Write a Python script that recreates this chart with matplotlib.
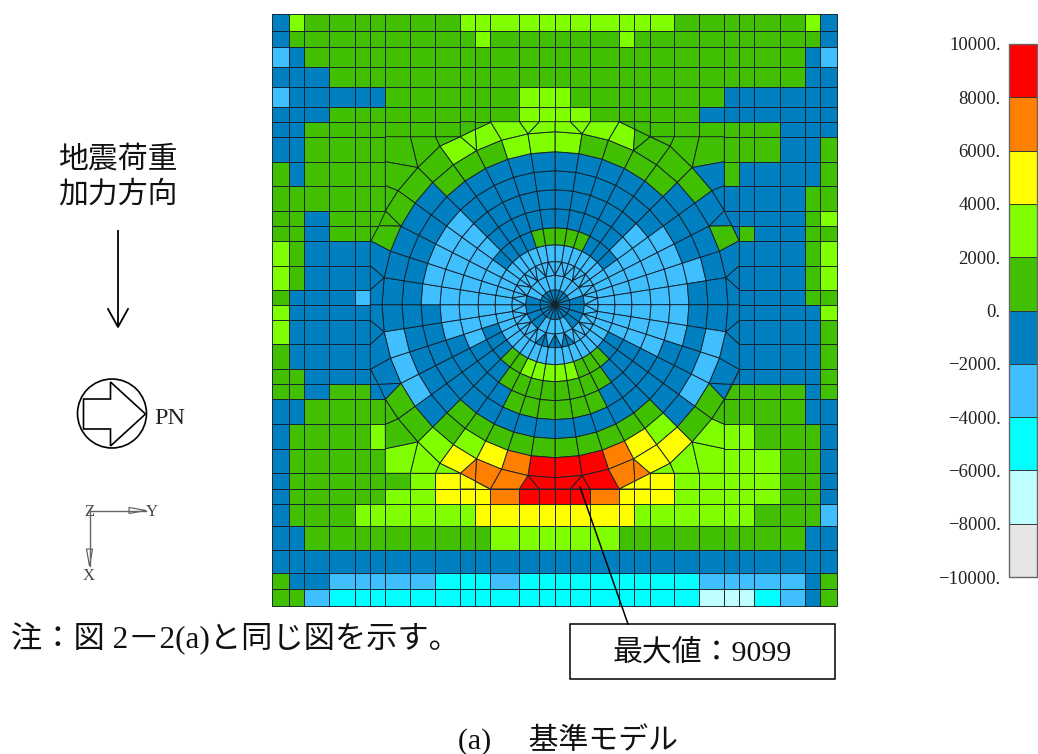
import numpy as np
import matplotlib

matplotlib.use('Agg')

import matplotlib.pyplot as plt
from matplotlib.cm import ScalarMappable
from matplotlib.collections import PolyCollection
from matplotlib.colors import BoundaryNorm, ListedColormap
from matplotlib.patches import Circle, Polygon, Rectangle
from matplotlib.ticker import FuncFormatter

JP = ['Liberation Serif', 'Noto Sans CJK JP', 'DejaVu Sans']

# contour bands
levels = [-10000, -8000, -6000, -4000, -2000, 0, 2000, 4000, 6000, 8000, 10000]
band_colors = ['#e6e6e6', '#bfffff', '#00ffff', '#40bfff', '#0080c0',
               '#40c000', '#80ff00', '#ffff00', '#ff8000', '#ff0000']

# mesh lines of the outer grid
x_lines = [272.3, 289.3, 304.3, 329.3, 355.3, 370.3, 385.3, 410.3, 435.3, 460.3,
           475.3, 490.3, 519.3, 539.3, 555, 570.3, 590.3, 619.3, 634.3, 650.3,
           674.3, 699.3, 724.3, 739.3, 754.3, 780.3, 805.3, 820.3, 837.3]
y_lines = [14, 30.7, 47.3, 66.7, 86.7, 106.7, 121.7, 136.7, 161.7, 185.7, 210.7,
           225.7, 240.7, 265.7, 290, 304.7, 320.3, 344.3, 369.3, 384.3, 399.3,
           424.3, 448.7, 473.3, 489, 504, 526.3, 550.3, 572.7, 589, 606]

# stress per grid cell in thousands (middle of the band), 0 = cell is inside the hole mesh
H10, H16, H18 = [0] * 10, [0] * 16, [0] * 18
grid_rows = [
    [-1, 3, 1, 1, 1, 1, 1, 1, 1, 3, 3, 3, 3, 3, 3, 3, 3, 3, 3, 3, 1, 1, 1, 1, 1, 1, 3, -1],
    [-1, 1, 1, 1, 1, 1, 1, 1, 1, 1, 3, 1, 1, 1, 1, 1, 1, 3, 1, 1, 1, 1, 1, 1, 1, 1, 1, -1],
    [-3, -1, 1, 1, 1, 1, 1, 1, 1, 1, 1, 1, 1, 1, 1, 1, 1, 1, 1, 1, 1, 1, 1, 1, 1, 1, -1, -3],
    [-1, -1, -1, 1, 1, 1, 1, 1, 1, 1, 1, 1, 1, 1, 1, 1, 1, 1, 1, 1, 1, 1, 1, 1, 1, 1, -1, -1],
    [-3, -1, -1, -1, -1, -1, 1, 1, 1, 1, 1, 1, 3, 3, 3, 1, 1, 1, 1, 1, 1, 1, -1, -1, -1, -1, -1, -1],
    [-1, -1, -1, 1, 1, 1, 1, 1, 1, 1, 1, 1, 3, 3, 3, 3, 1, 1, 1, 1, 1, -1, -1, -1, -1, -1, -1, -1],
    [-1, -1, 1, 1, 1, 1, 1, 1, 1] + H10 + [1, 1, 1, 1, 1, 1, -1, -1, -1],
    [-1, -1, 1, 1, 1, 1] + H16 + [1, 1, 1, -1, -1, 1],
    [1, -1, 1, 1, 1, 1] + H16 + [1, -1, -1, -1, -1, 1],
    [1, 1, 1, 1, 1, 1] + H16 + [-1, -1, -1, -1, 1, 1],
    [1, 1, -1, 1, 1] + H18 + [-1, -1, -1, 1, 3],
    [1, 1, -1, 1, 1] + H18 + [1, -1, -1, 1, 1],
    [3, 1, -1, -1, -1] + H18 + [-1, -1, -1, 1, 3],
    [3, 1, -1, -1, -1] + H18 + [-1, -1, -1, 1, 3],
    [1, -1, -1, -1, -3] + H18 + [-1, -1, -1, 1, 1],
    [3, -1, -1, -1, -1] + H18 + [-1, -1, -1, -1, 3],
    [3, -1, -1, -1, -1] + H18 + [-1, -1, -1, -1, 1],
    [1, -1, -1, -1, -1] + H18 + [-1, -1, -1, -1, 1],
    [1, 1, -1, -1, -1] + H18 + [-1, -1, -1, -1, 1],
    [1, 1, -1, 1, 1] + H18 + [1, 1, 1, -1, 1],
    [-1, -1, 1, 1, 1, 1] + H16 + [1, 1, 1, 1, -1, -1],
    [-1, 1, 1, 1, 1, 3] + H16 + [3, 3, 1, 1, 1, -1],
    [-1, 1, 1, 1, 1, 1] + H16 + [3, 3, 3, 1, 1, -1],
    [-1, 1, 1, 1, 1, 1, 1, 3, 5] + H10 + [5, 3, 3, 3, 3, 3, 1, 1, -1],
    [-1, 1, 1, 1, 1, 1, 3, 3, 5, 5, 5, 7, 9, 9, 9, 9, 7, 5, 5, 5, 3, 3, 3, 3, 3, 1, 1, -1],
    [-1, 1, 1, 1, 3, 3, 3, 3, 3, 3, 5, 5, 5, 5, 5, 5, 5, 5, 3, 3, 3, 3, 3, 3, 1, 1, 1, -3],
    [-1, -1, 1, 1, 1, 1, 1, 1, 1, 1, 1, 3, 3, 3, 3, 3, 3, 1, 1, 1, 1, 1, 1, 1, 1, 1, -1, -1],
    [-1] * 28,
    [1, -1, -1, -3, -3, -3, -3, -3, -5, -5, -5, -3, -5, -5, -5, -5, -5, -5, -5, -5, -5, -3, -3, -3, -3, -3, -1, 1],
    [1, 1, -3, -5, -5, -5, -5, -5, -5, -5, -5, -5, -5, -5, -5, -5, -5, -5, -5, -5, -5, -7, -7, -7, -5, -3, -1, 1],
]

# hole mesh: ring radii and stress per 9 degree sector, clockwise from the top
center = (555, 304.7)
ring_radii = [43, 60, 77, 96, 115, 134, 153, 173]
ring_bands = [
    [-3] * 40,
    [1, 1, 1, -1, -1, -1, -3, -3, -3, -3,
     -3, -3, -3, -1, -1, 1, 1, 1, 3, 3,
     3, 3, 3, 1, 1, -1, -1, -1, -3, -3,
     -3, -3, -3, -3, -1, -1, -1, -1, 1, 1],
    [-1, -1, -1, -1, -1, -3, -3, -3, -3, -3,
     -3, -3, -3, -1, -1, -1, 1, 1, 1, 1,
     1, 1, 1, 1, -1, -1, -1, -3, -3, -3,
     -3, -3, -3, -3, -3, -1, -1, -1, -1, -1],
    [-1, -1, -1, -1, -1, -3, -3, -3, -3, -3,
     -3, -3, -3, -1, -1, -1, -1, 1, 1, 1,
     1, 1, 1, -1, -1, -1, -1, -1, -3, -3,
     -3, -3, -3, -3, -3, -1, -1, -1, -1, -1],
    [-1, -1, -1, -1, -1, -1, -3, -3, -3, -3,
     -3, -3, -1, -1, -1, -1, -1, -1, -1, -1,
     -1, -1, -1, -1, -1, -1, -1, -1, -1, -1,
     -3, -3, -3, -3, -3, -1, -1, -1, -1, -1],
    [-1, -1, -1, -1, -1, -1, -1, -1, -3, -1,
     -1, -1, -1, -1, -1, 1, 1, 1, 1, 1,
     1, 1, 1, 1, 1, -1, -1, -1, -1, -1,
     -1, -1, -1, -1, -1, -1, -1, -1, -1, -1],
    [3, 1, 1, 1, 1, -1, -1, -1, -1, -1,
     -1, -3, -3, -3, -1, 3, 5, 7, 9, 9,
     9, 7, 5, 3, 1, -1, -3, -3, -3, -1,
     -1, -1, -1, -1, -1, 1, 1, 1, 3, 3],
]
# inner star: dark sectors
mid_dark = [4, 5, 6, 7, 12, 13, 14, 15]          # 18 degree sectors, radius 15 to 29.5
star_dark = [17, 18, 19, 20, 21, 22]             # 9 degree sectors, radius 29.5 to 43

# transition elements, one list per quadrant (top right, bottom right, bottom left, top left)
trans_tr = [3, 3, 3, 3, 1, 1, 1, 1, -1, -1, 1, -1, -1, -1, 1, 1, 1, 1, 1, -1, -1, -1, -1]
trans_br = [9, 9, 9, 7, 7, 5, 5, 1, 1, -1, -1, -1, -1, -1, 5, 5, 3, 3, 3, 3, 1, 1, -1]
trans_bl = [9, 9, 7, 7, 7, 5, 3, 1, 1, -1, -1, -1, -1, -1, 5, 5, 3, 3, 3, 1, 1, -1, -1]
trans_tl = [3, 3, 3, 3, 3, 3, 1, 1, 1, 1, 1, -1, -1, -1, 1, 1, 1, 1, 1, 1, 1, 1, 1]

legend_text = '地震荷重\n加力方向'
note_text = '注：図 2－2(a)と同じ図を示す。'
max_text = '最大値：9099'
caption_text = '(a)　 基準モデル'


def ring_pt(r, deg):
    a = np.radians(deg)
    return center[0] + r * np.sin(a), center[1] - r * np.cos(a)


def transition_polys(flip_x, flip_y):
    # written for the top right quadrant, mirrored for the others
    def G(c, r):
        return (x_lines[28 - c if flip_x else c], y_lines[30 - r if flip_y else r])

    def P(r, deg):
        x, y = ring_pt(r, deg)
        if flip_x:
            x = 2 * center[0] - x
        if flip_y:
            y = 2 * center[1] - y
        return (x, y)

    def on_line(a, b, t):
        return (a[0] + (b[0] - a[0]) * t, a[1] + (b[1] - a[1]) * t)

    o36, o45, o54 = P(196, 36), P(194, 45), P(194, 54)
    mid = on_line(G(17, 6), G(19, 7), 0.5)
    cut = on_line(G(22, 10), G(23, 12), 0.5)
    return [
        [G(14, 6), G(15, 6), P(173, 9), P(173, 0)],
        [G(15, 6), G(16, 6), P(173, 9)],
        [G(16, 6), G(17, 6), P(173, 18), P(173, 9)],
        [G(17, 6), mid, P(173, 27), P(173, 18)],
        [mid, G(19, 7), P(173, 27)],
        [G(19, 7), o36, P(173, 36), P(173, 27)],
        [o36, o45, P(173, 45), P(173, 36)],
        [o45, o54, P(173, 54), P(173, 45)],
        [o54, G(22, 10), P(173, 63), P(173, 54)],
        [G(22, 10), cut, P(173, 63)],
        [P(173, 63), cut, G(23, 12), P(173, 72)],
        [G(23, 12), G(23, 13), P(173, 81), P(173, 72)],
        [G(23, 13), G(23, 14), P(173, 81)],
        [G(23, 14), G(23, 15), P(173, 90), P(173, 81)],
        [G(17, 6), G(18, 6), mid],
        [G(18, 6), G(19, 6), G(19, 7), mid],
        [G(19, 7), G(20, 7), o36],
        [G(20, 7), G(21, 7), o45, o36],
        [G(21, 7), G(22, 7), G(22, 8), o45],
        [G(22, 8), G(22, 9), o54, o45],
        [G(22, 9), G(22, 10), o54],
        [G(22, 10), G(23, 10), G(23, 11), cut],
        [cut, G(23, 11), G(23, 12)],
    ]


verts, values = [], []

for r, row in enumerate(grid_rows):
    for c, v in enumerate(row):
        if v == 0:
            continue
        verts.append([(x_lines[c], y_lines[r]), (x_lines[c + 1], y_lines[r]),
                      (x_lines[c + 1], y_lines[r + 1]), (x_lines[c], y_lines[r + 1])])
        values.append(v * 1000)

for k, bands in enumerate(ring_bands):
    for i, v in enumerate(bands):
        verts.append([ring_pt(ring_radii[k], i * 9), ring_pt(ring_radii[k + 1], i * 9),
                      ring_pt(ring_radii[k + 1], (i + 1) * 9), ring_pt(ring_radii[k], (i + 1) * 9)])
        values.append(v * 1000)

for flips, bands in [((False, False), trans_tr), ((False, True), trans_br),
                     ((True, True), trans_bl), ((True, False), trans_tl)]:
    for poly, v in zip(transition_polys(*flips), bands):
        verts.append(poly)
        values.append(v * 1000)

# center of the hole: fans and star shaped ring
for s in range(20):
    a0, a1 = s * 18, (s + 1) * 18
    verts.append([center, ring_pt(15, a0), ring_pt(15, a1)])
    values.append(-1000)
    verts.append([ring_pt(15, a0), ring_pt(29.5, a0), ring_pt(29.5, a1), ring_pt(15, a1)])
    values.append(-1000 if s in mid_dark else -3000)
    # two triangles against the outer ring and one between them
    for j, inner in ((2 * s, a0), (2 * s + 1, a1)):
        verts.append([ring_pt(29.5, inner), ring_pt(43, j * 9), ring_pt(43, (j + 1) * 9)])
        values.append(-1000 if j in star_dark else -3000)
    verts.append([ring_pt(29.5, a0), ring_pt(43, a0 + 9), ring_pt(29.5, a1)])
    values.append(-3000)

cmap = ListedColormap(band_colors)
norm = BoundaryNorm(levels, cmap.N)

fig = plt.figure(figsize=(10.38, 7.54), dpi=100)
ax = fig.add_axes([0, 0, 1, 1])
ax.set_xlim(0, 1038)
ax.set_ylim(754, 0)
ax.axis('off')

mesh = PolyCollection(verts, array=np.array(values), cmap=cmap, norm=norm,
                      edgecolors='#14202a', linewidths=0.65)
ax.add_collection(mesh)

# leader and box for the maximum
ax.plot([580, 628], [487, 624], color='k', lw=1.1)
ax.add_patch(Rectangle((570, 624), 265, 55, fc='w', ec='k', lw=1.1))
ax.text(702, 653, max_text, family=JP, fontsize=21.5, ha='center', va='center', color='#111111')

# load direction
ax.text(118, 177, legend_text, family=JP, fontsize=21.5, ha='center', va='center',
        linespacing=1.3, color='#111111')
ax.plot([118, 118], [231, 326], color='k', lw=1.3)
ax.plot([108, 118, 128], [309, 327, 309], color='k', lw=1.3)

# PN symbol
ax.add_patch(Circle((112, 413.5), 34.5, fc='none', ec='k', lw=1.2))
ax.add_patch(Polygon([(83.5, 399), (110.5, 399), (110.5, 382), (145.5, 414), (110.5, 446),
                      (110.5, 429), (83.5, 429)], closed=True, fc='w', ec='k', lw=1.2))
ax.text(154, 418, 'PN', family='Liberation Serif', fontsize=17.5, ha='left', va='center',
        color='#222222')

# global axes
ax.plot([89.5, 146], [510.5, 510.5], color='#666666', lw=1)
ax.plot([89.5, 89.5], [510.5, 566], color='#666666', lw=1)
ax.add_patch(Polygon([(129, 507.5), (146, 510.5), (129, 513.5)], closed=True, fc='w', ec='#555555', lw=0.8))
ax.add_patch(Polygon([(86.5, 549), (89.5, 566), (92.5, 549)], closed=True, fc='w', ec='#555555', lw=0.8))
ax.text(89, 512, 'Z', family='Liberation Serif', fontsize=12, ha='center', va='center', color='#444444')
ax.text(152, 512, 'Y', family='Liberation Serif', fontsize=12, ha='center', va='center', color='#444444')
ax.text(89, 576, 'X', family='Liberation Serif', fontsize=12, ha='center', va='center', color='#444444')

ax.text(11, 639, note_text, family=JP, fontsize=22.5, ha='left', va='center', color='#111111')
ax.text(568, 740, caption_text, family=JP, fontsize=21.5, ha='center', va='center', color='#111111')

# color bar
cax = fig.add_axes([1009 / 1038, 1 - 577 / 754, 28 / 1038, 533 / 754])
cb = fig.colorbar(ScalarMappable(norm=norm, cmap=cmap), cax=cax, ticks=levels,
                  spacing='proportional', drawedges=True,
                  format=FuncFormatter(lambda v, _: f'{int(v)}.'.replace('-', '\u2212')))
cb.ax.yaxis.set_ticks_position('left')
cb.ax.tick_params(length=0, pad=6, labelsize=13.5, labelcolor='#222222')
for lab in cb.ax.get_yticklabels():
    lab.set_family('Liberation Serif')
cb.outline.set_edgecolor('#666666')
cb.outline.set_linewidth(1)
cb.dividers.set_color('#333333')
cb.dividers.set_linewidth(0.7)

fig.savefig('out.png', dpi=100)
